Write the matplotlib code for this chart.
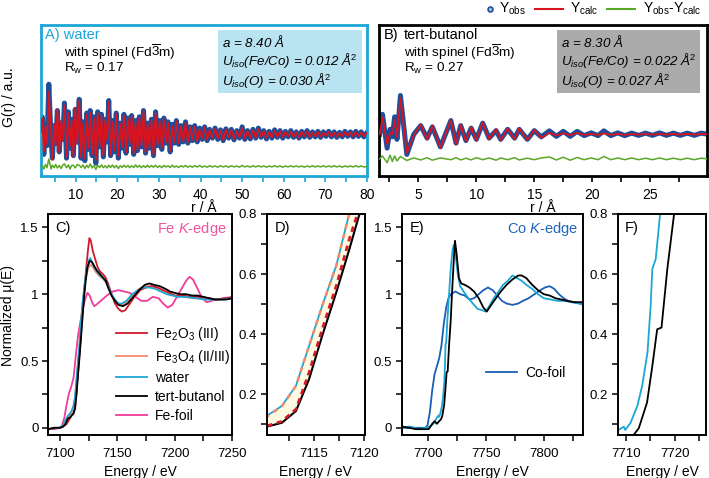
import numpy as np
import matplotlib
matplotlib.use("Agg")
import matplotlib.pyplot as plt
from matplotlib.lines import Line2D
from matplotlib.patches import Rectangle
from matplotlib.ticker import MultipleLocator

plt.rcParams['font.family'] = ['Liberation Sans', 'DejaVu Sans']
plt.rcParams['mathtext.fontset'] = 'custom'
plt.rcParams['mathtext.rm'] = 'Liberation Sans'
plt.rcParams['mathtext.it'] = 'Liberation Sans:italic'
plt.rcParams['mathtext.bf'] = 'Liberation Sans:bold'

# ---------------- PDF data (panel A, water) ----------------
rA = [1.65, 1.95, 2.35, 2.75, 3.10, 3.55, 4.10, 4.40, 4.85, 5.20,
      5.60, 6.05, 6.50, 6.90, 7.30, 7.80, 8.25, 8.65, 9.05, 9.45,
      9.90, 10.40, 10.85, 11.30, 11.75, 12.20, 12.65, 13.05, 13.50, 13.95,
      14.40, 14.85, 15.30, 15.75, 16.20, 16.65, 17.10, 17.55, 17.95, 18.40,
      18.85, 19.30, 19.75, 20.25, 20.70, 21.15, 21.60, 22.10, 22.55, 23.00,
      23.45, 23.95, 24.40, 24.85, 25.30, 25.80, 26.30, 26.80, 27.25, 27.70,
      28.20, 28.70, 29.20, 29.70, 30.20, 30.70, 31.20, 31.70, 32.20, 32.70,
      33.20, 33.70, 34.20, 34.75, 35.30, 35.85, 36.40, 36.95, 37.50, 38.05,
      38.60, 39.20, 39.80, 40.40, 41.00, 41.60, 42.20, 42.85, 43.50, 44.15,
      44.80, 45.45, 46.10, 46.75, 47.40, 48.05, 48.70, 49.35, 50.00, 50.65,
      51.30, 51.95, 52.60, 53.25, 53.90, 54.55, 55.20, 55.85, 56.50, 57.15,
      57.80, 58.45, 59.10, 59.75, 60.40, 61.05, 61.70, 62.35, 63.00, 63.65,
      64.30, 64.95, 65.60, 66.25, 66.90, 67.55, 68.20, 68.85, 69.50, 70.15,
      70.80, 71.45, 72.10, 72.75, 73.40, 74.05, 74.70, 75.35, 76.00, 76.65,
      77.30, 77.95, 78.60, 79.25, 79.90]
gA_obs = [0.10, 0.70, -0.80, 0.40, -0.45, 2.00, -0.20, -0.95, 0.35, -0.35,
          0.95, -0.70, 0.45, -0.20, 1.25, -0.95, 0.90, -0.55, 0.60, -0.85,
          1.00, -0.30, 1.40, -0.95, 0.50, -1.05, 0.85, -0.60, 0.95, -0.85,
          0.70, -1.15, 0.90, -0.50, 0.80, -0.90, 0.60, -0.30, 1.35, -0.85,
          0.55, -0.70, 0.85, -0.95, 0.45, -0.55, 0.80, -0.75, 0.65, -0.40,
          0.75, -0.80, 0.55, -0.65, 0.70, -0.50, 0.95, -0.75, 0.45, -0.55,
          0.60, -0.85, 0.90, -0.45, 0.55, -0.60, 0.65, -0.35, 0.50, -0.70,
          0.40, -0.35, 0.55, -0.40, 0.35, -0.30, 0.50, -0.35, 0.30, -0.25,
          0.35, -0.30, 0.25, -0.20, 0.30, -0.25, 0.20, -0.15, 0.25, -0.20,
          0.18, -0.25, 0.22, -0.15, 0.20, -0.22, 0.15, -0.15, 0.30, -0.20,
          0.15, -0.18, 0.20, -0.15, 0.25, -0.12, 0.15, -0.18, 0.12, -0.15,
          0.18, -0.12, 0.15, -0.15, 0.12, -0.10, 0.15, -0.12, 0.10, -0.15,
          0.12, -0.10, 0.15, -0.12, 0.10, -0.10, 0.12, -0.12, 0.10, -0.08,
          0.12, -0.10, 0.10, -0.12, 0.08, -0.10, 0.12, -0.08, 0.10, -0.10,
          0.12, -0.08, 0.10, -0.10, 0.05]
gA_diff = [0.00, 0.05, -0.10, 0.08, -0.05, 0.30, -0.10, 0.05, -0.05, 0.08,
           -0.06, 0.04, -0.08, 0.06, 0.10, -0.05, 0.06, -0.10, 0.04, 0.05,
           -0.06, 0.08, 0.05, -0.04, 0.06, -0.08, 0.05, -0.05, 0.10, -0.06,
           0.04, -0.12, 0.05, -0.04, 0.06, -0.05, 0.03, -0.06, 0.05, -0.04,
           0.06, -0.05, 0.04, -0.08, 0.03, -0.04, 0.05, -0.03, 0.04, -0.05,
           0.03, -0.04, 0.06, -0.03, 0.04, -0.05, 0.03, -0.04, 0.05, -0.03,
           0.04, -0.03, 0.05, -0.04, 0.03, -0.05, 0.04, -0.02, 0.03, -0.04,
           0.05, -0.03, 0.02, -0.04, 0.03, -0.02, 0.04, -0.03, 0.02, -0.03,
           0.03, -0.02, 0.04, -0.03, 0.02, -0.03, 0.03, -0.02, 0.02, -0.03,
           0.03, -0.02, 0.02, -0.03, 0.03, -0.02, 0.02, -0.03, 0.04, -0.02,
           0.02, -0.03, 0.03, -0.02, 0.03, -0.02, 0.02, -0.03, 0.02, -0.02,
           0.03, -0.02, 0.02, -0.03, 0.02, -0.02, 0.03, -0.02, 0.02, -0.02,
           0.02, -0.03, 0.02, -0.02, 0.03, -0.02, 0.02, -0.02, 0.03, -0.02,
           0.02, -0.02, 0.03, -0.02, 0.02, -0.03, 0.02, -0.02, 0.02, -0.02,
           0.03, -0.02, 0.02, -0.02, 0.00]

# ---------------- PDF data (panel B, tert-butanol) ----------------
rB = [1.65, 1.90, 2.30, 2.55, 2.75, 2.95, 3.15, 3.45, 4.00, 4.60,
      5.20, 5.75, 6.20, 6.90, 7.80, 8.25, 8.65, 9.10, 9.55, 10.00,
      10.55, 11.10, 11.70, 12.10, 12.70, 13.30, 13.70, 14.40, 15.00, 15.60,
      16.30, 16.90, 17.50, 18.10, 18.70, 19.30, 19.90, 20.50, 21.00, 21.60,
      22.20, 22.80, 23.40, 24.00, 24.60, 25.20, 25.80, 26.40, 27.00, 27.60,
      28.20, 28.80, 29.40, 30.00]
gB_obs = [0.00, 0.80, -0.55, 0.20, -0.10, 0.70, -0.20, 1.55, -0.80, 0.00,
          0.35, -0.15, 0.30, -0.50, 0.55, -0.35, 0.35, -0.25, 0.25, -0.20,
          0.45, -0.15, 0.15, -0.20, 0.20, -0.15, 0.20, -0.20, 0.15, -0.10,
          0.14, -0.08, 0.12, -0.08, 0.12, -0.05, 0.06, -0.05, 0.14, -0.05,
          0.06, -0.05, 0.05, -0.04, 0.05, -0.04, 0.06, -0.04, 0.05, -0.04,
          0.05, -0.04, 0.05, 0.00]
gB_diff = [0.00, 0.12, -0.15, 0.15, -0.10, 0.12, -0.08, 0.10, -0.06, 0.04,
           -0.04, 0.05, -0.05, 0.04, -0.03, 0.05, -0.04, 0.03, -0.04, 0.05,
           -0.03, 0.04, -0.05, 0.04, -0.03, 0.05, -0.04, 0.03, -0.03, 0.04,
           0.08, -0.04, 0.07, -0.05, 0.06, -0.03, 0.04, -0.03, 0.10, -0.03,
           0.04, -0.03, 0.04, -0.03, 0.03, -0.03, 0.04, -0.03, 0.03, -0.03,
           0.03, -0.03, 0.03, 0.00]

# ---------------- Fe K-edge XANES ----------------
E_fe2o3 = [7090, 7095, 7100, 7103, 7106, 7108, 7110.3, 7111.8, 7113.2, 7114.5,
           7115.8, 7117.2, 7118.5, 7119.3, 7121, 7123, 7124.5, 7125.7, 7127, 7128.5,
           7130.5, 7133, 7135, 7137.5, 7139.5, 7142, 7145, 7148, 7151, 7154,
           7157, 7161, 7165, 7170, 7175, 7180, 7185, 7190, 7195, 7200,
           7207, 7215, 7222, 7230, 7237, 7244, 7250]
mu_fe2o3 = [-0.01, 0.0, 0.0, 0.01, 0.03, 0.06, 0.094, 0.11, 0.15, 0.272,
            0.416, 0.561, 0.717, 0.80, 1.0, 1.2, 1.33, 1.42, 1.40, 1.33,
            1.27, 1.20, 1.17, 1.15, 1.13, 1.08, 1.00, 0.93, 0.89, 0.87,
            0.88, 0.93, 0.98, 1.03, 1.05, 1.06, 1.05, 1.03, 1.01, 0.99,
            0.99, 0.98, 0.98, 0.97, 0.96, 0.97, 0.97]

E_fe3o4 = [7090, 7095, 7100, 7103, 7105, 7107, 7109, 7110.3, 7111.8, 7113.2,
           7114.5, 7115.8, 7117.2, 7118.4, 7120, 7121.5, 7123, 7125, 7127, 7129,
           7131, 7134, 7137, 7140, 7143, 7146, 7149, 7152, 7155, 7159,
           7164, 7169, 7174, 7179, 7184, 7189, 7194, 7200, 7208, 7216,
           7224, 7232, 7240, 7250]
mu_fe3o4 = [-0.01, 0.0, 0.0, 0.02, 0.05, 0.08, 0.10, 0.125, 0.16, 0.228,
            0.361, 0.494, 0.628, 0.79, 0.95, 1.06, 1.14, 1.20, 1.22, 1.20,
            1.17, 1.14, 1.12, 1.09, 1.04, 0.98, 0.94, 0.92, 0.92, 0.95,
            1.00, 1.04, 1.06, 1.06, 1.05, 1.03, 1.01, 0.99, 0.98, 0.97,
            0.97, 0.96, 0.96, 0.97]

E_fe_water = [7090, 7095, 7100, 7103, 7105, 7107, 7109, 7110.3, 7111.8, 7113.2,
              7114.5, 7115.8, 7117.2, 7118.4, 7120, 7121.5, 7123, 7125, 7126.5, 7128,
              7130, 7133, 7136, 7139, 7142, 7145, 7148, 7151, 7154, 7158,
              7163, 7168, 7173, 7178, 7183, 7188, 7193, 7198, 7203, 7210,
              7218, 7226, 7234, 7242, 7250]
mu_fe_water = [-0.01, 0.0, 0.0, 0.02, 0.06, 0.09, 0.11, 0.128, 0.161, 0.228,
               0.361, 0.494, 0.628, 0.79, 0.95, 1.07, 1.17, 1.25, 1.27, 1.24,
               1.20, 1.16, 1.13, 1.11, 1.06, 1.00, 0.96, 0.93, 0.93, 0.95,
               1.00, 1.03, 1.05, 1.05, 1.04, 1.02, 1.00, 0.99, 0.98, 0.98,
               0.97, 0.96, 0.96, 0.96, 0.97]

E_fe_tbu = [7090, 7095, 7100, 7103, 7105, 7107, 7108.5, 7110.3, 7111.8, 7113.2,
            7114.5, 7115.8, 7117.2, 7118.5, 7119.5, 7121, 7122.5, 7124, 7126, 7128,
            7130, 7132, 7135, 7138, 7140, 7142, 7145, 7148, 7151, 7155,
            7159, 7164, 7169, 7174, 7178, 7182, 7187, 7192, 7196, 7200,
            7205, 7210, 7215, 7220, 7225, 7230, 7235, 7240, 7245, 7250]
mu_fe_tbu = [-0.01, 0.0, 0.0, 0.01, 0.03, 0.07, 0.075, 0.092, 0.105, 0.144,
             0.25, 0.394, 0.539, 0.683, 0.80, 0.97, 1.10, 1.20, 1.25, 1.24,
             1.21, 1.18, 1.15, 1.12, 1.10, 1.05, 0.99, 0.95, 0.92, 0.91,
             0.93, 0.98, 1.03, 1.07, 1.08, 1.07, 1.06, 1.04, 1.02, 1.01,
             1.0, 1.0, 0.99, 0.99, 0.98, 0.97, 0.96, 0.96, 0.96, 0.97]

E_fefoil = [7090, 7095, 7100, 7102, 7104, 7106, 7108, 7110, 7112, 7114,
            7116, 7118, 7120, 7122, 7124, 7126, 7128, 7130, 7133, 7137,
            7141, 7146, 7151, 7156, 7161, 7166, 7171, 7176, 7181, 7186,
            7190, 7194, 7198, 7202, 7206, 7210, 7213, 7216, 7220, 7224,
            7228, 7232, 7237, 7243, 7250]
mu_fefoil = [-0.01, -0.01, 0.0, 0.02, 0.08, 0.18, 0.26, 0.31, 0.38, 0.55,
             0.70, 0.80, 0.89, 0.96, 1.01, 0.99, 0.94, 0.91, 0.93, 0.96,
             0.99, 1.02, 1.03, 1.02, 1.01, 0.98, 0.95, 0.95, 0.98, 0.97,
             0.93, 0.90, 0.92, 0.98, 1.04, 1.10, 1.13, 1.11, 1.04, 0.97,
             0.94, 0.95, 0.96, 0.97, 0.98]

# ---------------- Co K-edge XANES ----------------
E_co_water = [7678, 7685, 7692, 7698, 7702, 7705, 7707, 7708.4, 7708.8, 7709.5,
              7709.8, 7710.9, 7712.3, 7713.3, 7714.4, 7715.05, 7715.4, 7716.1, 7717.0, 7718.5,
              7720, 7721.5, 7722.5, 7724, 7726, 7728, 7731, 7735, 7739, 7743,
              7747, 7750, 7753, 7757, 7761, 7765, 7769, 7773, 7777, 7781,
              7785, 7790, 7795, 7800, 7806, 7812, 7818, 7824, 7830, 7834]
mu_co_water = [0.0, 0.01, -0.01, 0.0, 0.01, 0.03, 0.06, 0.081, 0.085, 0.092,
               0.081, 0.105, 0.161, 0.228, 0.339, 0.494, 0.617, 0.65, 0.80, 1.00,
               1.20, 1.33, 1.37, 1.30, 1.15, 1.06, 1.02, 0.97, 0.93, 0.89,
               0.88, 0.87, 0.91, 0.97, 1.02, 1.07, 1.10, 1.14, 1.12, 1.10,
               1.07, 1.04, 1.00, 0.97, 0.96, 0.95, 0.95, 0.94, 0.93, 0.92]

E_co_tbu = [7678, 7684, 7690, 7696, 7701, 7704, 7706, 7708, 7710, 7711.5,
            7712.6, 7714.3, 7715.4, 7716.4, 7717.3, 7718.5, 7719.9, 7721, 7722.5, 7723.6,
            7725, 7727, 7729, 7732, 7736, 7740, 7744, 7748, 7751, 7754,
            7758, 7763, 7768, 7773, 7778, 7781, 7785, 7790, 7795, 7800,
            7805, 7810, 7815, 7820, 7826, 7834]
mu_co_tbu = [0.01, 0.0, -0.01, -0.01, -0.01, 0.03, 0.05, 0.03, 0.05, 0.064,
             0.087, 0.172, 0.294, 0.416, 0.422, 0.617, 0.80, 1.00, 1.25, 1.40,
             1.30, 1.12, 1.08, 1.07, 1.05, 1.02, 0.97, 0.90, 0.87, 0.91,
             0.96, 1.02, 1.07, 1.11, 1.14, 1.14, 1.12, 1.07, 1.03, 1.00,
             0.99, 0.97, 0.96, 0.95, 0.94, 0.94]

E_cofoil = [7678, 7690, 7698, 7700, 7702, 7704, 7706, 7708, 7710, 7712,
            7714, 7716, 7718, 7720, 7724, 7728, 7732, 7736, 7740, 7744,
            7748, 7752, 7756, 7760, 7764, 7768, 7773, 7778, 7782, 7787,
            7792, 7797, 7801, 7805, 7809, 7813, 7817, 7821, 7826, 7834]
mu_cofoil = [0.0, 0.0, 0.0, 0.02, 0.12, 0.28, 0.40, 0.46, 0.52, 0.62,
             0.78, 0.90, 0.97, 1.0, 1.02, 1.0, 0.99, 0.96, 0.97, 1.0,
             1.03, 1.05, 1.03, 0.99, 0.95, 0.93, 0.92, 0.93, 0.95, 0.97,
             1.0, 1.03, 1.05, 1.06, 1.04, 1.0, 0.97, 0.95, 0.94, 0.93]

# ---------------- style ----------------
C_OBS = '#1d4f9a'
C_CALC = '#d7141f'
C_DIFF = '#5aa827'
C_CYAN = '#1ba6d6'
C_RED = '#d11a2a'
C_SALMON = '#f58a6c'
C_PINK = '#f03c9a'
C_BLUE = '#1a5fb4'

W, H = 709, 478
fig = plt.figure(figsize=(W / 100, H / 100), dpi=100)


def fx(px):
    return px / W


def fy(py):
    return 1 - py / H


def add_ax(l, r, t, b):
    return fig.add_axes([fx(l), fy(b), fx(r) - fx(l), fy(t) - fy(b)])


# ---- panels A and B ----
for key in ['A', 'B']:
    if key == 'A':
        ax = add_ax(40.7, 367, 25, 175.5)
        r, gobs, gdiff, off, fcol = rA, gA_obs, gA_diff, -1.28, C_CYAN
        ax.set_xlim(1.6, 80)
        ax.xaxis.set_major_locator(MultipleLocator(10))
        ax.xaxis.set_minor_locator(MultipleLocator(5))
    else:
        ax = add_ax(379, 707, 25, 175.5)
        r, gobs, gdiff, off, fcol = rB, gB_obs, gB_diff, -0.98, 'black'
        ax.set_xlim(1.6, 29.9)
        ax.xaxis.set_major_locator(MultipleLocator(5))
        ax.xaxis.set_minor_locator(MultipleLocator(2.5))
    r = np.array(r)
    gobs = np.array(gobs)
    gdiff = np.array(gdiff)
    ax.plot(r, gobs, color=C_OBS, lw=3.6, solid_joinstyle='round', zorder=2)
    ax.plot(r, gobs - gdiff, color=C_CALC, lw=1.3, zorder=3)
    ax.plot(r, gdiff + off, color=C_DIFF, lw=1.1, zorder=3)
    ax.set_ylim(-1.64, 4.36)
    ax.set_yticks([])
    for s in ax.spines.values():
        s.set_color(fcol)
        s.set_linewidth(2)
    ax.tick_params(axis='x', which='both', direction='out', length=4, width=1.2,
                   color=fcol, labelsize=10, pad=5)
    ax.set_xlabel('r / Å', fontsize=10, labelpad=-1)

# texts A
fig.text(fx(45), fy(35), 'A) water', color=C_CYAN, fontsize=10.5, va='center')
fig.text(fx(64), fy(52), r'with spinel (Fd$\overline{3}$m)', fontsize=9.7, va='center')
fig.text(fx(64), fy(68), r'R$_\mathrm{w}$ = 0.17', fontsize=9.7, va='center')
fig.add_artist(Rectangle((fx(218), fy(93)), fx(362) - fx(218), fy(30) - fy(93),
                         transform=fig.transFigure, facecolor='#b9e3f0', edgecolor='none'))
fig.text(fx(222), fy(42), r'$a$ = 8.40 Å', fontsize=9.6, style='italic', va='center')
fig.text(fx(222), fy(60), r'$U_{iso}$(Fe/Co) = 0.012 Å$^{\mathit{2}}$', fontsize=9.6,
         style='italic', va='center')
fig.text(fx(222), fy(80), r'$U_{iso}$(O) = 0.030 Å$^{\mathit{2}}$', fontsize=9.6,
         style='italic', va='center')

# texts B
fig.text(fx(383.5), fy(35), 'B)', fontsize=10.5, va='center')
fig.text(fx(404), fy(35), 'tert-butanol', fontsize=10.5, va='center')
fig.text(fx(404), fy(52), r'with spinel (Fd$\overline{3}$m)', fontsize=9.7, va='center')
fig.text(fx(404), fy(68), r'R$_\mathrm{w}$ = 0.27', fontsize=9.7, va='center')
fig.add_artist(Rectangle((fx(557), fy(93)), fx(700) - fx(557), fy(30) - fy(93),
                         transform=fig.transFigure, facecolor='#ababab', edgecolor='none'))
fig.text(fx(561), fy(42), r'$a$ = 8.30 Å', fontsize=9.6, style='italic', va='center')
fig.text(fx(561), fy(60), r'$U_{iso}$(Fe/Co) = 0.022 Å$^{\mathit{2}}$', fontsize=9.6,
         style='italic', va='center')
fig.text(fx(561), fy(80), r'$U_{iso}$(O) = 0.027 Å$^{\mathit{2}}$', fontsize=9.6,
         style='italic', va='center')

fig.text(fx(9), fy(97), 'G(r) / a.u.', rotation=90, fontsize=10, va='center', ha='center')

# top legend
ly = fy(9)
fig.add_artist(Line2D([fx(490)], [ly], marker='o', markersize=3.5, markerfacecolor='#9fc3e6',
                      markeredgecolor=C_OBS, markeredgewidth=1.2, linestyle='none',
                      transform=fig.transFigure))
fig.text(fx(499), ly, r'Y$_\mathrm{obs}$', fontsize=10, va='center')
fig.add_artist(Line2D([fx(535), fx(563)], [ly, ly], color=C_CALC, lw=1.5,
                      transform=fig.transFigure))
fig.text(fx(570), ly, r'Y$_\mathrm{calc}$', fontsize=10, va='center')
fig.add_artist(Line2D([fx(607), fx(635)], [ly, ly], color=C_DIFF, lw=1.5,
                      transform=fig.transFigure))
fig.text(fx(643), ly, r'Y$_\mathrm{obs}$-Y$_\mathrm{calc}$', fontsize=10, va='center')

# ---- XANES panels ----
axC = add_ax(48.4, 232, 214, 434.5)
axD = add_ax(267, 364.5, 214, 434.5)
axE = add_ax(402, 583.3, 214, 434.5)
axF = add_ax(618, 706, 214, 434.5)

for ax in [axC, axD, axE, axF]:
    for s in ax.spines.values():
        s.set_linewidth(1.4)
    ax.tick_params(which='both', direction='out', length=4, width=1.1, labelsize=9.5, pad=3)
    ax.tick_params(axis='x', which='both', pad=6)
    ax.set_xlabel('Energy / eV', fontsize=10, labelpad=3)

lw = 1.3
# C
axC.plot(E_fefoil, mu_fefoil, color=C_PINK, lw=lw, label='Fe-foil')
axC.plot(E_fe3o4, mu_fe3o4, color=C_SALMON, lw=lw, label=r'Fe$_3$O$_4$ (II/III)')
axC.plot(E_fe2o3, mu_fe2o3, color=C_RED, lw=lw, label=r'Fe$_2$O$_3$ (III)')
axC.plot(E_fe_water, mu_fe_water, color=C_CYAN, lw=lw, label='water')
axC.plot(E_fe_tbu, mu_fe_tbu, color='black', lw=lw, label='tert-butanol')
axC.set_xlim(7090, 7250)
axC.set_ylim(-0.05, 1.6)
axC.xaxis.set_major_locator(MultipleLocator(50))
axC.xaxis.set_minor_locator(MultipleLocator(25))
axC.set_yticks([0, 0.5, 1, 1.5])
axC.set_yticklabels(['0', '0.5', '1', '1.5'])
axC.yaxis.set_minor_locator(MultipleLocator(0.25))
h, l = axC.get_legend_handles_labels()
order = [2, 1, 3, 4, 0]
axC.legend([h[i] for i in order], [l[i] for i in order], loc='upper left',
           bbox_to_anchor=(0.37, 0.495), frameon=False, fontsize=10, handlelength=2.2,
           handletextpad=0.6, labelspacing=0.35, borderpad=0, borderaxespad=0)
axC.text(0.04, 0.935, 'C)', transform=axC.transAxes, fontsize=10.5, va='center')
axC.text(0.97, 0.93, r'Fe $K$-edge', transform=axC.transAxes, fontsize=10.5,
         va='center', ha='right', color='#f0559d')
fig.text(fx(8), fy(316), 'Normalized μ(E)', rotation=90, fontsize=10, va='center', ha='center')

# D
axD.fill(np.r_[E_fe_water, E_fe_tbu[::-1]], np.r_[mu_fe_water, mu_fe_tbu[::-1]],
         color='#fffbe3', lw=0, zorder=0)
axD.plot(E_fe_water, mu_fe_water, color=C_CYAN, lw=1.3)
axD.plot(E_fe3o4, mu_fe3o4, color=C_SALMON, lw=1.8, dashes=(2, 2))
axD.plot(E_fe_tbu, mu_fe_tbu, color='black', lw=1.5)
axD.plot(E_fe2o3, mu_fe2o3, color=C_RED, lw=2.0, dashes=(2, 1.6))
axD.set_xlim(7110.33, 7120)
axD.set_ylim(0.066, 0.8)
axD.set_xticks([7115, 7120])
axD.xaxis.set_minor_locator(MultipleLocator(2.5))
axD.set_yticks([0.2, 0.4, 0.6, 0.8])
axD.yaxis.set_minor_locator(MultipleLocator(0.1))
axD.text(0.08, 0.935, 'D)', transform=axD.transAxes, fontsize=10.5, va='center')

# E
axE.plot(E_cofoil, mu_cofoil, color=C_BLUE, lw=lw, label='Co-foil')
axE.plot(E_co_water, mu_co_water, color=C_CYAN, lw=lw)
axE.plot(E_co_tbu, mu_co_tbu, color='black', lw=lw)
axE.set_xlim(7678, 7834)
axE.set_ylim(-0.05, 1.6)
axE.xaxis.set_major_locator(MultipleLocator(50))
axE.xaxis.set_minor_locator(MultipleLocator(25))
axE.set_yticks([0, 0.5, 1, 1.5])
axE.set_yticklabels(['0', '0.5', '1', '1.5'])
axE.yaxis.set_minor_locator(MultipleLocator(0.25))
axE.legend(loc='center left', bbox_to_anchor=(0.465, 0.279), frameon=False, fontsize=10,
           handlelength=2.2, handletextpad=0.6, borderpad=0, borderaxespad=0)
axE.text(0.04, 0.935, 'E)', transform=axE.transAxes, fontsize=10.5, va='center')
axE.text(0.97, 0.93, r'Co $K$-edge', transform=axE.transAxes, fontsize=10.5,
         va='center', ha='right', color='#1e66bb')

# F
axF.plot(E_co_water, mu_co_water, color=C_CYAN, lw=1.3)
axF.plot(E_co_tbu, mu_co_tbu, color='black', lw=1.3)
axF.set_xlim(7708.3, 7726.5)
axF.set_ylim(0.066, 0.8)
axF.set_xticks([7710, 7720])
axF.xaxis.set_minor_locator(MultipleLocator(5))
axF.set_yticks([0.2, 0.4, 0.6, 0.8])
axF.yaxis.set_minor_locator(MultipleLocator(0.1))
axF.text(0.08, 0.935, 'F)', transform=axF.transAxes, fontsize=10.5, va='center')

fig.savefig('out.png', dpi=100)
